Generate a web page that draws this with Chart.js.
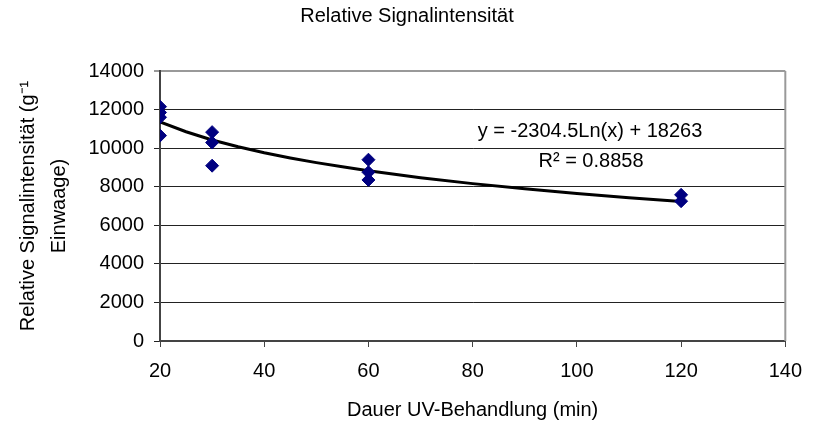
<!DOCTYPE html>
<html>
<head>
<meta charset="utf-8">
<script src="https://cdn.jsdelivr.net/npm/chart.js@4"></script>
<style>
html,body{margin:0;padding:0;background:#fff;}
#wrap{width:814px;height:426px;}
</style>
</head>
<body>
<div id="wrap"><canvas id="c" width="814" height="426"></canvas></div>
<script>
// ---- data ----
const chartTitle = "Relative Signalintensität";
const xTitle = "Dauer UV-Behandlung (min)";
const yTitle = ["Relative Signalintensität (g\u207B\u00B9", "Einwaage)"];
const measX = [20, 20, 20, 20, 30, 30, 30, 60, 60, 60, 120, 120];
const measY = [12150, 11850, 11600, 10650, 10830, 10290, 9090, 9400, 8750, 8350, 7580, 7250];
const trendX = [20, 25, 30, 35, 40, 45, 50, 55, 60, 70, 80, 90, 100, 110, 120];
const trendY = [11360, 10850, 10420, 10070, 9760, 9490, 9250, 9030, 8830, 8470, 8160, 7890, 7650, 7430, 7230];
const trendEquation = "y = -2304.5Ln(x) + 18263";
const trendR2 = "R\u00B2 = 0.8858";
const xTicks = [20, 40, 60, 80, 100, 120, 140];
const yTicks = [0, 2000, 4000, 6000, 8000, 10000, 12000, 14000];

const FONT = "'Liberation Sans', Arial, sans-serif";

const extras = {
  id: 'extras',
  afterDraw(chart) {
    const ctx = chart.ctx, a = chart.chartArea;
    ctx.save();
    // right border
    ctx.strokeStyle = '#999';
    ctx.lineWidth = 2;
    ctx.beginPath();
    ctx.moveTo(a.right, a.top);
    ctx.lineTo(a.right, a.bottom);
    ctx.stroke();
    // title
    ctx.fillStyle = '#000';
    ctx.font = "20px " + FONT;
    ctx.textAlign = 'center';
    ctx.textBaseline = 'alphabetic';
    ctx.fillText(chartTitle, 407, 22);
    // trend annotation
    ctx.fillText(trendEquation, 590, 137);
    ctx.fillText(trendR2, 591, 167);
    ctx.restore();
  }
};

const toPts = (xs, ys) => xs.map((x, i) => ({x: x, y: ys[i]}));

new Chart(document.getElementById('c'), {
  type: 'scatter',
  data: {
    datasets: [
      {
        label: 'Trend',
        type: 'line',
        data: toPts(trendX, trendY),
        borderColor: '#000',
        borderWidth: 3,
        pointRadius: 0,
        tension: 0,
        fill: false,
        order: 2
      },
      {
        label: 'Messwerte',
        data: toPts(measX, measY),
        pointStyle: 'rectRot',
        pointRadius: 6.5,
        pointHoverRadius: 6.5,
        backgroundColor: '#000080',
        borderColor: '#000080',
        borderWidth: 1,
        order: 1
      }
    ]
  },
  options: {
    responsive: false,
    animation: false,
    events: [],
    layout: { padding: { top: 71, right: 28, bottom: 0, left: 0 } },
    plugins: {
      legend: { display: false },
      title: { display: false },
      tooltip: { enabled: false }
    },
    scales: {
      x: {
        type: 'linear',
        min: 20, max: 140,
        afterBuildTicks(s) { s.ticks = xTicks.map(v => ({value: v})); },
        afterFit(s) { s.height = 85; },
        border: { display: true, color: '#444', width: 2 },
        grid: { drawOnChartArea: false, drawTicks: true, tickLength: 6, color: '#444', lineWidth: 1 },
        ticks: { color: '#000', font: { family: FONT, size: 20 }, padding: 12, maxRotation: 0, callback: (v) => String(v) },
        title: { display: true, text: xTitle, color: '#000', font: { family: FONT, size: 20 }, padding: { top: 0, bottom: 4 } }
      },
      y: {
        min: 0, max: 14000,
        afterBuildTicks(s) { s.ticks = yTicks.map(v => ({value: v})); },
        afterFit(s) { s.width = 160; },
        border: { display: true, color: '#444', width: 2 },
        grid: {
          drawTicks: true, tickLength: 6,
          color: (c) => (c.tick && c.tick.value === 14000) ? '#999' : '#222',
          lineWidth: (c) => (c.tick && c.tick.value === 14000) ? 2 : 1
        },
        ticks: { color: '#000', font: { family: FONT, size: 20 }, padding: 10, callback: (v) => String(v) },
        title: { display: true, text: yTitle, color: '#000', font: { family: FONT, size: 20, lineHeight: 1.55 }, padding: { top: 13, bottom: 0 } }
      }
    }
  },
  plugins: [extras]
});
</script>
</body>
</html>
